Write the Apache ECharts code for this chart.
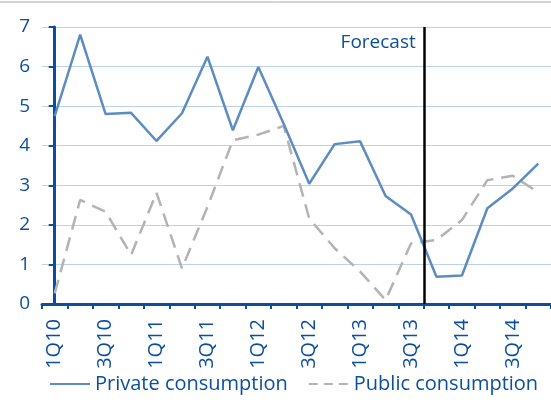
<!DOCTYPE html>
<html>
<head>
<meta charset="utf-8">
<script src="https://cdn.jsdelivr.net/npm/echarts@6/dist/echarts.min.js"></script>
<style>
  html, body { margin: 0; padding: 0; background: #fff; }
  #chart { width: 551px; height: 405px; }
</style>
</head>
<body>
<div id="chart"></div>
<script>
const quarters = [
  "1Q10", "2Q10", "3Q10", "4Q10",
  "1Q11", "2Q11", "3Q11", "4Q11",
  "1Q12", "2Q12", "3Q12", "4Q12",
  "1Q13", "2Q13", "3Q13", "4Q13",
  "1Q14", "2Q14", "3Q14", "4Q14",
];
const privateConsumption = [
  4.75, 6.81, 4.8, 4.83, 4.12, 4.82, 6.25, 4.39, 5.99, 4.55,
  3.04, 4.04, 4.11, 2.73, 2.26, 0.69, 0.72, 2.42, 2.92, 3.55,
];
const publicConsumption = [
  0.27, 2.63, 2.33, 1.24, 2.81, 0.9, 2.45, 4.14, 4.28, 4.5,
  2.16, 1.41, 0.82, 0.1, 1.53, 1.62, 2.12, 3.13, 3.24, 2.82,
];
// forecast starts between 3Q13 and 4Q13
const forecastStart = 14.5;
const forecastLabelY = 6.6;

const blue = "#0b4f9c";
const fontFamily = "Open Sans";

const chart = echarts.init(document.getElementById("chart"));

chart.setOption({
  animation: false,
  textStyle: { fontFamily: fontFamily },
  graphic: [
    {
      type: "line",
      shape: { x1: 0, y1: 2, x2: 551, y2: 2 },
      style: { stroke: "#aaaaaa", lineWidth: 1 },
    },
  ],
  legend: {
    bottom: 6,
    left: 44,
    itemWidth: 40,
    itemHeight: 10,
    itemGap: 20,
    itemStyle: { opacity: 0 },
    textStyle: { color: blue, fontSize: 20, fontFamily: fontFamily },
    data: [
      { name: "Private consumption" },
      { name: "Public consumption", lineStyle: { type: [9, 6] } },
    ],
  },
  grid: {
    left: 42,
    top: 27,
    width: 516,
    height: 277,
  },
  xAxis: [
    {
      type: "category",
      data: quarters,
      boundaryGap: true,
      axisLine: { lineStyle: { color: blue, width: 3 } },
      axisTick: { show: true, inside: false, length: 5, interval: 0, lineStyle: { color: blue, width: 2 } },
      axisLabel: {
        interval: 1,
        rotate: 90,
        color: blue,
        fontSize: 20,
        margin: 15,
        fontFamily: fontFamily,
      },
      splitLine: { show: false },
    },
    {
      type: "value",
      show: false,
      min: -0.5,
      max: quarters.length - 0.5,
    },
  ],
  yAxis: {
    type: "value",
    min: 0,
    max: 7,
    interval: 1,
    axisLine: { show: true, lineStyle: { color: blue, width: 3 } },
    axisTick: { show: true, length: 6, lineStyle: { color: blue, width: 2 } },
    axisLabel: { color: blue, fontSize: 19, margin: 12, fontFamily: fontFamily },
    splitLine: { lineStyle: { color: "#bcd2e8", width: 1 } },
  },
  series: [
    {
      name: "Public consumption",
      type: "line",
      data: publicConsumption,
      symbol: "none",
      z: 2,
      lineStyle: { color: "#b3b3b3", width: 2.5, type: [14, 8] },
      itemStyle: { color: "#b3b3b3" },
    },
    {
      name: "Private consumption",
      type: "line",
      data: privateConsumption,
      symbol: "none",
      z: 3,
      lineStyle: { color: "#5d8cc0", width: 2.5 },
      itemStyle: { color: "#5d8cc0" },
    },
    {
      name: "forecast",
      type: "line",
      xAxisIndex: 1,
      data: [],
      markLine: {
        silent: true,
        symbol: "none",
        lineStyle: { color: "#000", width: 2.5, type: "solid" },
        label: { show: false },
        data: [{ xAxis: forecastStart }],
      },
      markPoint: {
        silent: true,
        symbol: "circle",
        symbolSize: 0,
        label: {
          show: true,
          position: "left",
          distance: 8,
          formatter: "Forecast",
          color: blue,
          fontSize: 19,
          fontFamily: fontFamily,
        },
        data: [{ coord: [forecastStart, forecastLabelY] }],
      },
    },
  ],
});
</script>
</body>
</html>
